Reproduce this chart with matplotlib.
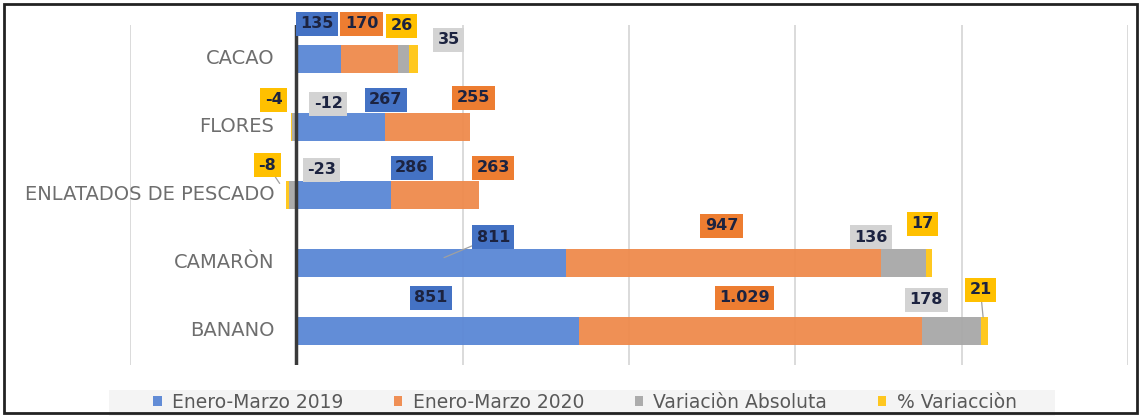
import matplotlib
matplotlib.use("Agg")
import matplotlib.pyplot as plt
from matplotlib.patches import Rectangle

plt.rcParams['font.family'] = ['DejaVu Sans']

# productos, de abajo hacia arriba
productos = ['BANANO', 'CAMARÒN', 'ENLATADOS DE PESCADO', 'FLORES', 'CACAO']

ene_mar_2019 = [851, 811, 286, 267, 135]
ene_mar_2020 = [1029, 947, 263, 255, 170]
var_absoluta = [178, 136, -23, -12, 35]
var_porcentaje = [21, 17, -8, -4, 26]

series = ['Enero-Marzo 2019', 'Enero-Marzo 2020', 'Variaciòn Absoluta', '% Variacciòn']
valores = [ene_mar_2019, ene_mar_2020, var_absoluta, var_porcentaje]

color_barra = ['#5a87d5', '#ef8a4c', '#a8a8a8', '#ffc514']
color_caja = ['#4472c4', '#ed7d31', '#d3d3d3', '#ffc000']

# desplazamiento de cada etiqueta (px) respecto al centro del segmento
desp = {
    0: [(-7, 33), (-6, 33), (-25, 31), (-4, 41)],
    1: [(62, 26), (-2, 37), (-33, 26), (-7, 39)],
    2: [(68, 27), (58, 27), (29, 25), (-20, 30)],
    3: [(45, 27), (46, 29), (34, 23), (-18, 27)],
    4: [(-2, 35), (-8, 35), (45, 19), (-12, 33)],
}
con_guia = {(1, 0), (2, 3), (0, 3)}


def fmt(v):
    return f"{v:,}".replace(",", ".")


fig = plt.figure(figsize=(11.41, 4.16), dpi=100)
ax = fig.add_axes([130 / 1141, 1 - 365 / 416, 998 / 1141, 340 / 416])

y = list(range(len(productos)))
alto = 0.4
pos = [0] * len(productos)
neg = [0] * len(productos)
centros = []
for s, vals in enumerate(valores):
    izq = []
    for i, v in enumerate(vals):
        if v >= 0:
            izq.append(pos[i])
            pos[i] += v
        else:
            izq.append(neg[i])
            neg[i] += v
    ax.barh(y, vals, left=izq, height=alto, color=color_barra[s],
            label=series[s], zorder=2, alpha=0.95)
    centros.append([l + v / 2 for l, v in zip(izq, vals)])

for i in y:
    for s in range(len(series)):
        dx, dy = desp[i][s]
        ap = None
        if (i, s) in con_guia:
            ap = dict(arrowstyle='-', color='#a0a0a0', lw=0.9,
                      shrinkA=0, shrinkB=10)
        ax.annotate(fmt(valores[s][i]), xy=(centros[s][i], i),
                    xytext=(dx, dy), textcoords='offset pixels',
                    ha='center', va='center', fontsize=11.5,
                    fontweight='bold', color='#1c2340', zorder=5,
                    bbox=dict(boxstyle='square,pad=0.28', fc=color_caja[s],
                              ec='none'),
                    arrowprops=ap)

# nombres de los productos junto al eje
for i, nombre in enumerate(productos):
    ax.annotate(nombre, xy=(0, i), xytext=(-22, 0), textcoords='offset pixels',
                ha='right', va='center', fontsize=14, color='#6e6e6e', zorder=4)

ax.set_xlim(-500, 2500)
ax.set_ylim(-0.5, 4.5)
ax.set_xticks(range(-500, 2501, 500))
ax.set_yticks([])
ax.tick_params(axis='x', length=0, labelbottom=False)
ax.grid(axis='x', color='#d4d4d4', lw=1.2, zorder=0)
ax.axvline(0, color='#3a3a3a', lw=2.5, zorder=3)
for sp in ax.spines.values():
    sp.set_visible(False)

# franja gris clara detrás de la leyenda
fig.patches.append(Rectangle((109 / 1141, 0), 946 / 1141, 26 / 416,
                             transform=fig.transFigure, fc='#f4f4f4',
                             ec='none', zorder=0))

leg = fig.legend(loc='center left', bbox_to_anchor=(140 / 1141, 1 - 402 / 416),
                 ncol=4, frameon=False, fontsize=13.5, handlelength=0.45,
                 handleheight=0.45, handletextpad=0.55, columnspacing=2.7,
                 borderpad=0.2)
for t in leg.get_texts():
    t.set_color('#595959')

fig.patches.append(Rectangle((4 / 1141, 3 / 416), 1133 / 1141, 409 / 416,
                             transform=fig.transFigure, fill=False,
                             ec='#222222', lw=2))

fig.savefig('out.png', dpi=100)
